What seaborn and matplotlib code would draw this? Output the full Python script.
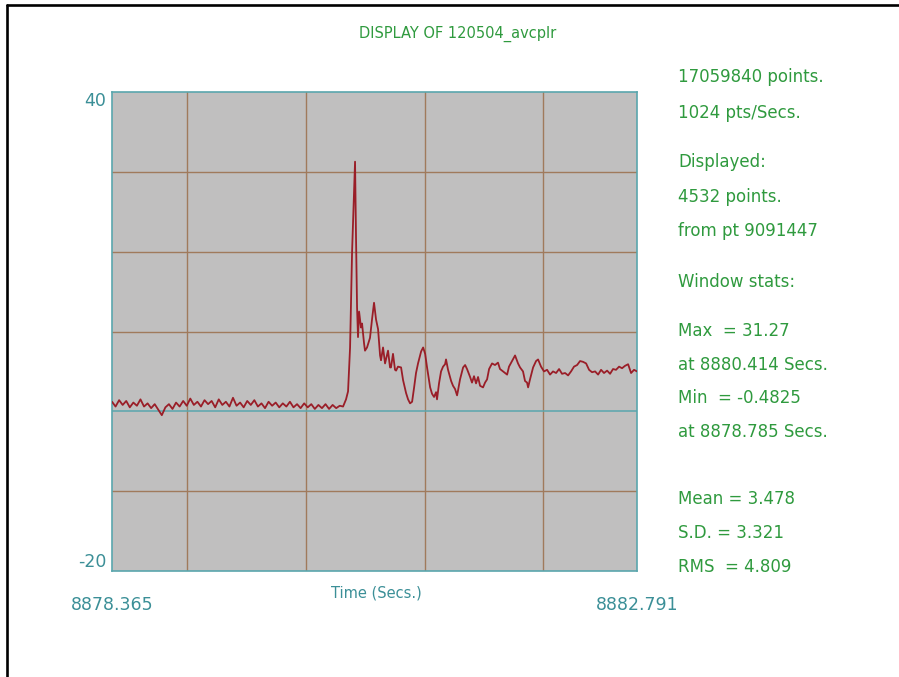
import matplotlib
matplotlib.use("Agg")
import matplotlib.pyplot as plt
from matplotlib.lines import Line2D
import numpy as np
import pandas as pd
import seaborn as sns

# ---- recording window ----
file_name = "120504_avcplr"
total_points = 17059840
sample_rate = 1024
shown_points = 4532
first_point = 9091447
t_start = 8878.365
t_end = 8882.791
y_limits = [-20, 40]

# elapsed seconds since the window start, and signal amplitude
elapsed = [
    0.00, 0.03, 0.06, 0.09, 0.12, 0.15, 0.18, 0.21, 0.24, 0.27,
    0.30, 0.33, 0.36, 0.39, 0.42, 0.45, 0.48, 0.51, 0.54, 0.57,
    0.60, 0.63, 0.66, 0.69, 0.72, 0.75, 0.78, 0.81, 0.84, 0.87,
    0.90, 0.93, 0.96, 0.99, 1.02, 1.05, 1.08, 1.11, 1.14, 1.17,
    1.20, 1.23, 1.26, 1.29, 1.32, 1.35, 1.38, 1.41, 1.44, 1.47,
    1.50, 1.53, 1.56, 1.59, 1.62, 1.65, 1.68, 1.71, 1.74, 1.77,
    1.80, 1.83, 1.86, 1.89, 1.92, 1.948, 1.973, 1.990, 2.007, 2.024,
    2.049, 2.057, 2.066, 2.074, 2.083, 2.099, 2.108, 2.125, 2.133, 2.150,
    2.175, 2.192, 2.209, 2.226, 2.243, 2.260, 2.268, 2.285, 2.302, 2.310,
    2.327, 2.344, 2.352, 2.369, 2.386, 2.395, 2.411, 2.437, 2.454, 2.479,
    2.496, 2.513, 2.530, 2.547, 2.563, 2.580, 2.606, 2.623, 2.640, 2.656,
    2.682, 2.698, 2.715, 2.732, 2.740, 2.757, 2.774, 2.791, 2.808, 2.816,
    2.833, 2.859, 2.875, 2.892, 2.909, 2.917, 2.934, 2.960, 2.977, 2.993,
    3.019, 3.035, 3.052, 3.069, 3.086, 3.103, 3.128, 3.145, 3.162, 3.179,
    3.204, 3.229, 3.254, 3.271, 3.297, 3.314, 3.331, 3.347, 3.373, 3.398,
    3.423, 3.440, 3.465, 3.482, 3.499, 3.508, 3.524, 3.550, 3.575, 3.592,
    3.617, 3.642, 3.668, 3.693, 3.718, 3.744, 3.769, 3.794, 3.820, 3.845,
    3.870, 3.895, 3.921, 3.946, 3.971, 3.997, 4.022, 4.047, 4.073, 4.098,
    4.123, 4.148, 4.174, 4.199, 4.224, 4.249, 4.275, 4.300, 4.325, 4.351,
    4.376, 4.401, 4.426,
]
amplitude = [
    1.2, 0.6, 1.4, 0.8, 1.3, 0.5, 1.1, 0.7, 1.5, 0.6,
    1.0, 0.4, 0.9, 0.2, -0.4825, 0.5, 0.9, 0.3, 1.1, 0.6,
    1.3, 0.7, 1.6, 0.8, 1.2, 0.6, 1.4, 0.9, 1.3, 0.5,
    1.5, 0.8, 1.2, 0.6, 1.7, 0.7, 1.1, 0.5, 1.3, 0.8,
    1.4, 0.6, 1.0, 0.4, 1.2, 0.7, 1.1, 0.5, 1.0, 0.6,
    1.2, 0.5, 0.9, 0.4, 1.0, 0.5, 0.9, 0.3, 0.8, 0.4,
    0.9, 0.3, 0.8, 0.4, 0.7, 0.6, 1.5, 2.5, 8.0, 20.0,
    31.27, 22.0, 13.0, 9.3, 12.5, 10.5, 11.0, 8.5, 7.6, 8.0,
    9.2, 11.5, 13.6, 11.5, 10.3, 7.0, 6.4, 8.0, 6.0, 6.5,
    7.6, 5.5, 5.5, 7.2, 5.2, 5.1, 5.6, 5.5, 3.9, 2.3,
    1.5, 1.0, 1.2, 3.0, 4.8, 6.0, 7.5, 8.0, 7.2, 5.5,
    3.0, 2.2, 1.8, 2.4, 1.5, 3.5, 5.0, 5.6, 5.9, 6.5,
    5.2, 3.8, 3.2, 2.8, 2.0, 2.6, 4.0, 5.5, 5.8, 5.3,
    4.3, 3.6, 4.4, 3.5, 4.3, 3.2, 3.0, 3.6, 4.0, 5.3,
    6.0, 5.8, 6.1, 5.3, 5.0, 4.8, 4.6, 5.6, 6.3, 7.0,
    6.0, 5.5, 5.0, 3.8, 3.6, 3.0, 4.0, 5.5, 6.3, 6.5,
    5.6, 5.0, 5.2, 4.6, 5.0, 4.8, 5.3, 4.7, 4.8, 4.5,
    5.0, 5.6, 5.8, 6.3, 6.2, 6.0, 5.2, 4.9, 5.0, 4.6,
    5.2, 4.8, 5.1, 4.7, 5.3, 5.2, 5.6, 5.4, 5.7, 5.9,
    4.8, 5.2, 5.0,
]

# summary statistics reported by the recorder
mean_value = "3.478"
sd_value = "3.321"
rms_value = "4.809"

# grid positions
grid_seconds = [8879, 8880, 8881, 8882]
grid_levels = [-10, 10, 20, 30]
zero_level = 0

# ---- colours ----
PANEL = "#c0bfbf"
GRID = "#a07a5c"
TEAL = "#5aa6ad"
LABEL_TEAL = "#3b8f97"
TRACE = "#9a1e28"
GREEN = "#2f9a3e"

df = pd.DataFrame({
    "time": [t_start + e for e in elapsed],
    "value": amplitude,
})

sns.set_theme(style="white")
plt.rcParams["font.family"] = ["DejaVu Sans"]

W, H = 899, 677
fig = plt.figure(figsize=(W / 100, H / 100), dpi=100)
fig.patch.set_facecolor("white")

ax = fig.add_axes([112 / W, 1 - 571 / H, 525 / W, 479 / H])
ax.set_facecolor(PANEL)
ax.set_xlim(t_start, t_end)
ax.set_ylim(*y_limits)

# grid: brown time / level lines, teal zero line
for g in grid_seconds:
    ax.axvline(g, color=GRID, lw=1.0, zorder=1)
for g in grid_levels:
    ax.axhline(g, color=GRID, lw=1.0, zorder=1)
ax.axhline(zero_level, color=TEAL, lw=1.1, zorder=1)

sns.lineplot(data=df, x="time", y="value", ax=ax, color=TRACE, lw=1.3,
             sort=False, estimator=None, zorder=3)

for s in ax.spines.values():
    s.set_color(TEAL)
    s.set_linewidth(1.2)

# end-point labels on both axes
ax.set_yticks(y_limits)
ax.set_yticklabels([str(v) for v in y_limits])
ylabs = ax.get_yticklabels()
ylabs[0].set_verticalalignment("bottom")
ylabs[1].set_verticalalignment("top")
ax.set_xticks([t_start, t_end])
ax.set_xticklabels([f"{t_start:.3f}", f"{t_end:.3f}"])
ax.tick_params(axis="both", length=0, labelsize=12.5, labelcolor=LABEL_TEAL)
ax.tick_params(axis="y", pad=4)
ax.tick_params(axis="x", pad=18)
ax.set_xlabel("")
ax.set_ylabel("")

ax.text(0.503, -0.046, "Time (Secs.)", transform=ax.transAxes,
        ha="center", va="center", fontsize=10.5, color=LABEL_TEAL)

fig.text(458 / W, 1 - 34 / H, f"DISPLAY OF {file_name}",
         ha="center", va="center", fontsize=10.5, color=GREEN)

# side panel with window statistics
i_max = int(np.argmax(amplitude))
i_min = int(np.argmin(amplitude))
side_lines = [
    (77, f"{total_points} points."),
    (113, f"{sample_rate} pts/Secs."),
    (162, "Displayed:"),
    (197, f"{shown_points} points."),
    (231, f"from pt {first_point}"),
    (282, "Window stats:"),
    (331, f"Max  = {amplitude[i_max]:g}"),
    (365, f"at {t_start + elapsed[i_max]:.3f} Secs."),
    (398, f"Min  = {amplitude[i_min]:g}"),
    (432, f"at {t_start + elapsed[i_min]:.3f} Secs."),
    (499, f"Mean = {mean_value}"),
    (533, f"S.D. = {sd_value}"),
    (567, f"RMS  = {rms_value}"),
]
for ypx, txt in side_lines:
    fig.text(678 / W, 1 - ypx / H, txt, ha="left", va="center",
             fontsize=12, color=GREEN)

# black frame along the top and left edges
fig.add_artist(Line2D([7 / W, 1.0], [1 - 4.5 / H, 1 - 4.5 / H],
                      transform=fig.transFigure, color="black", lw=1.9))
fig.add_artist(Line2D([7 / W, 7 / W], [0.0, 1 - 4.5 / H],
                      transform=fig.transFigure, color="black", lw=1.9))

fig.savefig("out.png", dpi=100)
